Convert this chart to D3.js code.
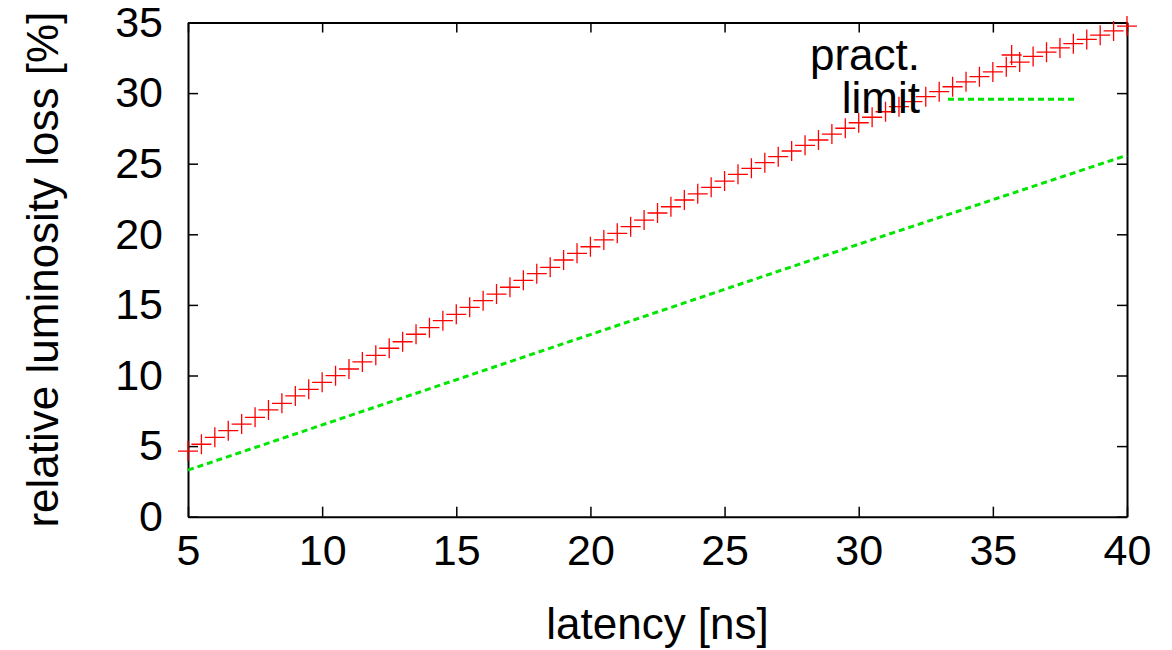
<!DOCTYPE html>
<html>
<head>
<meta charset="utf-8">
<script src="https://cdn.jsdelivr.net/npm/d3@7"></script>
<style>
  body { margin: 0; background: #fff; }
  text { font-family: "Liberation Sans", Arial, Helvetica, sans-serif; fill: #000; }
</style>
</head>
<body>
<div id="chart"></div>
<script>
// measured series: latency [ns] vs relative luminosity loss [%]
var latencyNs = [5, 5.5, 6, 6.5, 7, 7.5, 8, 8.5, 9, 9.5, 10, 10.5, 11, 11.5, 12, 12.5, 13, 13.5, 14, 14.5,
  15, 15.5, 16, 16.5, 17, 17.5, 18, 18.5, 19, 19.5, 20, 20.5, 21, 21.5, 22, 22.5, 23, 23.5, 24, 24.5,
  25, 25.5, 26, 26.5, 27, 27.5, 28, 28.5, 29, 29.5, 30, 30.5, 31, 31.5, 32, 32.5, 33, 33.5, 34, 34.5,
  35, 35.5, 35.7, 36, 36.5, 37, 37.5, 38, 38.5, 39, 39.5, 40];
var lossPct = [4.65, 5.13, 5.62, 6.09, 6.56, 7.04, 7.56, 8.03, 8.55, 9.02, 9.52, 9.99, 10.46, 10.96, 11.43, 11.93, 12.39, 12.92, 13.39, 13.88,
  14.33, 14.83, 15.30, 15.77, 16.25, 16.74, 17.21, 17.66, 18.18, 18.65, 19.12, 19.60, 20.07, 20.54, 21.01, 21.51, 21.95, 22.43, 22.87, 23.33,
  23.77, 24.25, 24.67, 25.07, 25.50, 25.90, 26.30, 26.68, 27.10, 27.51, 27.90, 28.29, 28.68, 29.04, 29.39, 29.75, 30.10, 30.45, 30.80, 31.16,
  31.50, 31.87, 32.70, 32.20, 32.60, 32.90, 33.20, 33.50, 33.80, 34.10, 34.40, 34.75];

// "pract. limit" line
var limitNs = [5, 10, 20, 30, 40];
var limitPct = [3.3, 6.5, 12.9, 19.3, 25.6];

var xTicks = [5, 10, 15, 20, 25, 30, 35, 40];
var yTicks = [0, 5, 10, 15, 20, 25, 30, 35];

var margin = {top: 22.5, right: 45, bottom: 133.3, left: 188},
    width = 1172 - margin.left - margin.right,
    height = 650 - margin.top - margin.bottom;

var svg = d3.select("#chart").append("svg")
  .attr("width", 1172).attr("height", 650);
var g = svg.append("g").attr("transform", "translate(" + margin.left + "," + margin.top + ")");

var x = d3.scaleLinear().domain([5, 40]).range([0, width]);
var y = d3.scaleLinear().domain([0, 35]).range([height, 0]);

var tickFont = 43,
    titleFont = 44;

// axes, ticks pointing inward, mirrored on top/right
var xAxis = g.append("g").attr("transform", "translate(0," + height + ")")
  .call(d3.axisBottom(x).tickValues(xTicks).tickSizeInner(-10).tickSizeOuter(0).tickPadding(18));
var yAxis = g.append("g")
  .call(d3.axisLeft(y).tickValues(yTicks).tickSizeInner(-10).tickSizeOuter(0).tickPadding(25));
g.append("g").call(d3.axisTop(x).tickValues(xTicks).tickSizeInner(-10).tickSizeOuter(0).tickFormat(""));
g.append("g").attr("transform", "translate(" + width + ",0)")
  .call(d3.axisRight(y).tickValues(yTicks).tickSizeInner(-10).tickSizeOuter(0).tickFormat(""));

g.selectAll(".domain").attr("stroke", "#000").attr("stroke-width", 2);
g.selectAll(".tick line").attr("stroke", "#000").attr("stroke-width", 1.5);
g.selectAll(".tick text").attr("font-size", tickFont).attr("font-family", null);

// axis titles
svg.append("text")
  .attr("x", margin.left + width / 2).attr("y", 639)
  .attr("text-anchor", "middle").attr("font-size", titleFont)
  .text("latency [ns]");
svg.append("text")
  .attr("transform", "translate(58," + (margin.top + height / 2) + ")rotate(-90)")
  .attr("text-anchor", "middle").attr("font-size", titleFont)
  .text("relative luminosity loss [%]");

// key
var key = svg.append("g");
key.append("text").attr("x", 920).attr("y", 70).attr("text-anchor", "end").attr("font-size", titleFont).text("pract.");
key.append("text").attr("x", 920).attr("y", 113).attr("text-anchor", "end").attr("font-size", titleFont).text("limit");
key.append("line")
  .attr("x1", 948).attr("x2", 1075).attr("y1", 99.3).attr("y2", 99.3)
  .attr("stroke", "#00e600").attr("stroke-width", 3).attr("stroke-dasharray", "6,4");

// practical limit line
var limitData = limitNs.map(function(d, i) { return {x: d, y: limitPct[i]}; });
g.append("path")
  .datum(limitData)
  .attr("fill", "none")
  .attr("stroke", "#00e600").attr("stroke-width", 3).attr("stroke-dasharray", "6,4")
  .attr("d", d3.line().x(function(d) { return x(d.x); }).y(function(d) { return y(d.y); }));

// red crosses
var pts = latencyNs.map(function(d, i) { return {x: d, y: lossPct[i]}; });
var cross = g.append("g").selectAll("path")
  .data(pts)
  .enter().append("path")
    .attr("fill", "none")
    .attr("stroke", "#ff0000")
    .attr("stroke-width", 1.3)
    .attr("d", function(d) {
      var cx = x(d.x), cy = y(d.y), s = 10;
      return "M" + (cx - s) + "," + cy + "H" + (cx + s) + "M" + cx + "," + (cy - s) + "V" + (cy + s);
    });
</script>
</body>
</html>
